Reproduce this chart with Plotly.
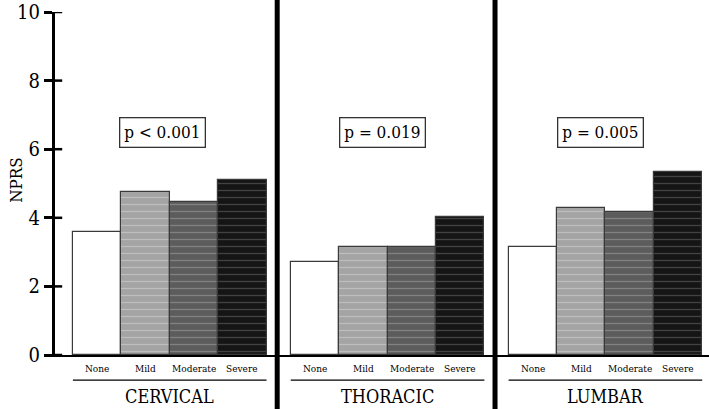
import plotly.graph_objects as go

regions = ["CERVICAL", "THORACIC", "LUMBAR"]
severity = ["None", "Mild", "Moderate", "Severe"]
values = {
    "CERVICAL": [3.58, 4.75, 4.47, 5.1],
    "THORACIC": [2.72, 3.15, 3.15, 4.02],
    "LUMBAR": [3.15, 4.28, 4.18, 5.33],
}
pvalues = ["p < 0.001", "p = 0.019", "p = 0.005"]
y_ticks = [0, 2, 4, 6, 8, 10]

fills = ["#ffffff", "#a4a4a4", "#5c5c5c", "#151515"]
pat_fg = ["#f4f4f4", "#d8d8d8", "#a8a8a8", "#707070"]

group_pitch = 4.5
serif = "DejaVu Serif Condensed, DejaVu Serif"

fig = go.Figure()
for s_i, sev in enumerate(severity):
    xs, ys = [], []
    for g_i, reg in enumerate(regions):
        xs.append(g_i * group_pitch + s_i)
        ys.append(values[reg][s_i])
    fig.add_trace(go.Bar(
        x=xs, y=ys, width=1.0, name=sev,
        marker=dict(color=fills[s_i], line=dict(color="#3a3a3a", width=1.2),
                    pattern=dict(shape="-" if s_i else "", fgcolor=pat_fg[s_i],
                                 size=7, solidity=0.18, fillmode="overlay")),
        showlegend=False, hoverinfo="skip",
    ))

xmin, xmax = -0.87, 2 * group_pitch + 3 + 0.64
shapes = []
annotations = []
for g_i in range(1, len(regions)):
    xs_sep = g_i * group_pitch - 0.78
    shapes.append(dict(type="line", xref="x", yref="paper", x0=xs_sep, x1=xs_sep,
                       y0=-0.2, y1=1.06, line=dict(color="black", width=5)))
for g_i, reg in enumerate(regions):
    x0 = g_i * group_pitch - 0.5
    x1 = g_i * group_pitch + 3.5
    shapes.append(dict(type="line", xref="x", yref="paper", x0=x0, x1=x1,
                       y0=-0.073, y1=-0.073, line=dict(color="black", width=1.3)))
    for s_i, sev in enumerate(severity):
        annotations.append(dict(x=g_i * group_pitch + s_i, y=-0.038, xref="x", yref="paper",
                                text=sev, showarrow=False, yanchor="middle",
                                font=dict(family=serif, size=10, color="black")))
    annotations.append(dict(x=g_i * group_pitch + 1.5, y=-0.121, xref="x", yref="paper",
                            text=reg, showarrow=False, yanchor="middle",
                            font=dict(family=serif, size=18, color="black")))
    annotations.append(dict(x=g_i * group_pitch + 1.5 - (0.15 if g_i == 0 else 0.1),
                            y=6.5, xref="x", yref="y",
                            text=pvalues[g_i], showarrow=False,
                            font=dict(family=serif, size=17, color="black"),
                            bordercolor="#333333", borderwidth=1.3, borderpad=4,
                            bgcolor="white"))

annotations.append(dict(x=-0.06, y=0.51, xref="paper", yref="paper", text="NPRS",
                        textangle=-90, showarrow=False, xanchor="center", yanchor="middle",
                        font=dict(family=serif, size=17, color="black")))

for t in y_ticks:
    shapes.append(dict(type="line", xref="paper", yref="y", x0=0, x1=0.011, y0=t, y1=t,
                       line=dict(color="black", width=2.5)))

fig.update_layout(
    width=709, height=409,
    margin=dict(l=55, r=0, t=12, b=54),
    plot_bgcolor="white", paper_bgcolor="white",
    barmode="overlay", bargap=0,
    shapes=shapes, annotations=annotations,
    xaxis=dict(range=[xmin, xmax], showticklabels=False, ticks="", showgrid=False,
               zeroline=False, showline=True, linecolor="black", linewidth=2,
               automargin=False),
    yaxis=dict(range=[0, 10], tickvals=y_ticks, ticks="outside", ticklen=8, tickwidth=2.5,
               tickcolor="black", showline=True, linecolor="black", linewidth=3,
               showgrid=False, zeroline=False, automargin=False,
               tickfont=dict(family=serif, size=20, color="black")),
)

fig.write_html("out.html")
